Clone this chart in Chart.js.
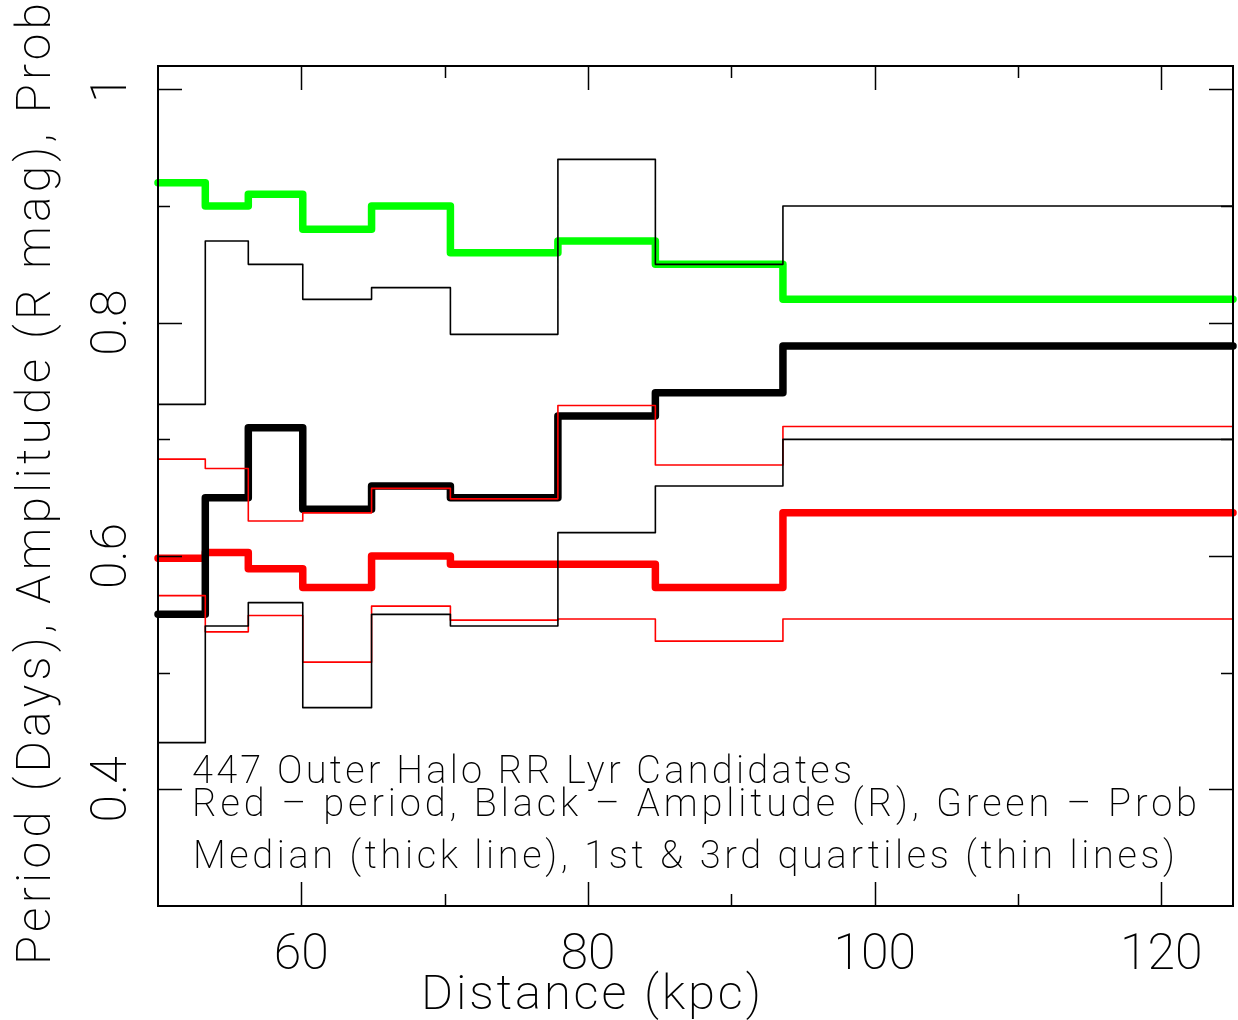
<!DOCTYPE html>
<html>
<head>
<meta charset="utf-8">
<title>447 Outer Halo RR Lyr Candidates</title>
<script src="https://cdn.jsdelivr.net/npm/chart.js@4.4.1/dist/chart.umd.min.js"></script>
<style>
  html, body { margin: 0; padding: 0; background: #fff; }
  #wrap { width: 1238px; height: 1020px; }
</style>
</head>
<body>
<div id="wrap"><canvas id="chart"></canvas></div>
<script>
// distance bins (kpc), left edges + last right edge
const binEdges = [50, 53.3, 56.3, 60.1, 64.9, 70.4, 77.9, 84.7, 93.6, 125];

// Red - period (days)
const periodMedian = [0.598, 0.603, 0.589, 0.573, 0.600, 0.593, 0.593, 0.573, 0.637];
const periodQ1     = [0.566, 0.535, 0.549, 0.509, 0.557, 0.545, 0.546, 0.527, 0.546];
const periodQ3     = [0.683, 0.675, 0.630, 0.637, 0.658, 0.649, 0.729, 0.678, 0.711];

// Black - amplitude (R mag)
const ampMedian = [0.55, 0.65, 0.71, 0.64, 0.66, 0.65, 0.72, 0.74, 0.78];
const ampQ1     = [0.44, 0.54, 0.56, 0.47, 0.55, 0.54, 0.62, 0.66, 0.70];
const ampQ3     = [0.73, 0.87, 0.85, 0.82, 0.83, 0.79, 0.94, 0.85, 0.90];

// Green - prob
const probMedian = [0.92, 0.90, 0.91, 0.88, 0.90, 0.86, 0.87, 0.85, 0.82];

const xTicks = [60, 80, 100, 120];
const xMinor = [70, 90, 110];
const yTicks = [0.4, 0.6, 0.8, 1];
const yMinor = [0.5, 0.7, 0.9];

const notes = [
  "447 Outer Halo RR Lyr Candidates",
  "Red \u2013 period, Black \u2013 Amplitude (R), Green \u2013 Prob",
  "Median (thick line), 1st & 3rd quartiles (thin lines)"
];

const FONT = 'Roboto, "DejaVu Sans", sans-serif';

// turn per-bin values into histogram-style step points
function steps(vals) {
  const pts = vals.map((v, i) => ({ x: binEdges[i], y: v }));
  pts.push({ x: binEdges[binEdges.length - 1], y: vals[vals.length - 1] });
  return pts;
}

function line(vals, color, width, order) {
  return {
    data: steps(vals),
    borderColor: color,
    borderWidth: width,
    stepped: true,
    pointRadius: 0,
    fill: false,
    borderCapStyle: 'round',
    borderJoinStyle: 'round',
    clip: 6,
    order: order
  };
}

// draw text, optional width target via letter spacing
function text(ctx, s, x, y, size, align, rot, width) {
  ctx.save();
  ctx.translate(x, y);
  if (rot) ctx.rotate(rot);
  ctx.font = '200 ' + size + 'px ' + FONT;
  ctx.fillStyle = '#000';
  ctx.textBaseline = 'alphabetic';
  ctx.textAlign = 'left';
  let w = ctx.measureText(s).width;
  if (width) {
    if ('letterSpacing' in ctx) {
      ctx.letterSpacing = ((width - w) / (s.length - 1)) + 'px';
    } else {
      ctx.scale(width / w, 1);
    }
    w = width;
  }
  let x0 = 0;
  if (align === 'center') x0 = -w / 2;
  else if (align === 'right') x0 = -w;
  ctx.fillText(s, x0, 0);
  ctx.restore();
}

const axesPlugin = {
  id: 'pgAxes',
  afterDatasetsDraw(chart) {
    const ctx = chart.ctx;
    const a = chart.chartArea;
    const xs = chart.scales.x, ys = chart.scales.y;
    ctx.save();
    ctx.strokeStyle = '#000';
    ctx.lineWidth = 2;
    ctx.strokeRect(a.left, a.top, a.right - a.left, a.bottom - a.top);

    ctx.lineWidth = 1.5;
    ctx.beginPath();
    const xt = (vals, len) => vals.forEach(v => {
      const p = Math.round(xs.getPixelForValue(v)) + 0.5;
      ctx.moveTo(p, a.bottom); ctx.lineTo(p, a.bottom - len);
      ctx.moveTo(p, a.top); ctx.lineTo(p, a.top + len);
    });
    const yt = (vals, len) => vals.forEach(v => {
      const p = Math.round(ys.getPixelForValue(v)) + 0.5;
      ctx.moveTo(a.left, p); ctx.lineTo(a.left + len, p);
      ctx.moveTo(a.right, p); ctx.lineTo(a.right - len, p);
    });
    xt(xTicks, 24); xt(xMinor, 12);
    yt(yTicks, 24); yt(yMinor, 12);
    ctx.stroke();

    // tick labels
    xTicks.forEach(v => text(ctx, String(v), xs.getPixelForValue(v), 969, 50, 'center'));
    yTicks.forEach(v => text(ctx, String(v), 126, ys.getPixelForValue(v), 50, 'center', -Math.PI / 2));

    // axis titles
    text(ctx, 'Distance (kpc)', 591, 1009, 49, 'center', 0, 340);
    text(ctx, 'Period (Days), Amplitude (R mag), Prob', 50, 484, 48, 'center', -Math.PI / 2, 962);

    // notes inside the frame
    text(ctx, notes[0], 192, 783, 38, 'left', 0, 660);
    text(ctx, notes[1], 192, 816, 38, 'left', 0, 1005);
    text(ctx, notes[2], 193, 868, 38, 'left', 0, 982);
    ctx.restore();
  }
};

new Chart(document.getElementById('chart'), {
  type: 'line',
  data: {
    datasets: [
      line(probMedian, '#00ff00', 7.5, 6),
      line(periodMedian, '#ff0000', 7.5, 5),
      line(ampMedian, '#000000', 7.5, 4),
      line(periodQ3, '#ff0000', 1.6, 3),
      line(periodQ1, '#ff0000', 1.6, 3),
      line(ampQ3, '#000000', 1.6, 2),
      line(ampQ1, '#000000', 1.6, 2)
    ]
  },
  options: {
    responsive: true,
    maintainAspectRatio: false,
    animation: false,
    layout: { padding: { left: 158, right: 5, top: 66, bottom: 114 } },
    scales: {
      x: { type: 'linear', min: 50, max: 125, display: false },
      y: { type: 'linear', min: 0.3, max: 1.02, display: false }
    },
    plugins: {
      legend: { display: false },
      tooltip: { enabled: false }
    }
  },
  plugins: [axesPlugin]
});
</script>
</body>
</html>
